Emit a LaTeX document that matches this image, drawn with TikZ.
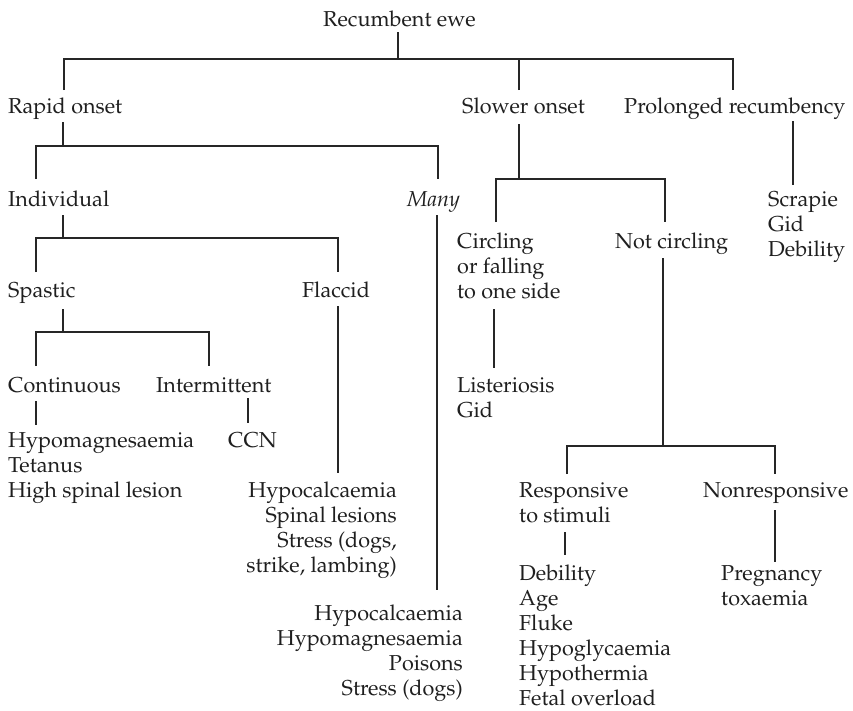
\documentclass[tikz,border=0pt]{standalone}
\usepackage[T1]{fontenc}
\usepackage{mathpazo}
\begin{document}
\begin{tikzpicture}[x=1pt,y=-1pt,
  lbl/.style={inner sep=0pt, anchor=base west, text=black!88,
    font=\fontsize{21.6}{25}\selectfont},
  lblr/.style={lbl, anchor=base east, align=right},
  listl/.style={lbl, align=left}, % anchored at the baseline of the last line
  conn/.style={line width=1.3pt, draw=black!85}]
\useasboundingbox (0,0) rectangle (853,710);

% ---- labels ----
\node[lbl] (rec) at (323,26) {Recumbent ewe};
\node[lbl] (rap) at (8,113) {Rapid onset};
\node[lbl] (slo) at (462,113) {Slower onset};
\node[lbl] (pro) at (624,113) {Prolonged recumbency};
\node[lbl] (ind) at (8,206) {Individual};
\node[lbl] (many) at (407,206) {\itshape Many};
\node[listl] (prolist) at (768,256) {Scrapie\\Gid\\Debility};
\node[lbl] (cir) at (457,248) {Circling};
\node[lbl] (cir2) at (457,273) {or falling};
\node[lbl] (cir3) at (457,298) {to one side};
\node[lbl] (not) at (615,248) {Not circling};
\node[lbl] (spa) at (8,297) {Spastic};
\node[lbl] (fla) at (302,297) {Flaccid};
\node[lbl] (con) at (8,392) {Continuous};
\node[lbl] (int) at (156,392) {Intermittent};
\node[listl] (cirlist) at (457,417) {Listeriosis\\Gid};
\node[listl] (conlist) at (8,497) {Hypomagnesaemia\\Tetanus\\High spinal lesion};
\node[lbl] (ccn) at (228,447) {CCN};
\node[lblr] (flalist) at (397,572) {Hypocalcaemia\\Spinal lesions\\Stress (dogs,\\strike, lambing)};
\node[lbl] (res) at (519,497) {Responsive};
\node[lbl] (res2) at (519,522) {to stimuli};
\node[lbl] (non) at (703,497) {Nonresponsive};
\node[listl] (reslist) at (519,705) {Debility\\Age\\Fluke\\Hypoglycaemia\\Hypothermia\\Fetal overload};
\node[listl] (nonlist) at (721,605) {Pregnancy\\toxaemia};
\node[lblr] (manylist) at (463,695) {Hypocalcaemia\\Hypomagnesaemia\\Poisons\\Stress (dogs)};

% ---- connector end points ----
\coordinate (rec-o) at (398,32);   \coordinate (rec-j) at (398,59);
\coordinate (rap-i) at (64,90);    \coordinate (slo-i) at (519,90);
\coordinate (pro-i) at (733,90);
\coordinate (rap-o) at (63,122);   \coordinate (rap-j) at (63,146);
\coordinate (ind-i) at (36,179);   \coordinate (many-i) at (438,179);
\coordinate (ind-o) at (63,215);   \coordinate (ind-j) at (63,238);
\coordinate (spa-i) at (36,272);   \coordinate (fla-i) at (338,272);
\coordinate (many-o) at (437,215); \coordinate (many-e) at (437,590);
\coordinate (spa-o) at (63,309);   \coordinate (spa-j) at (63,332);
\coordinate (con-i) at (36,366);   \coordinate (int-i) at (209,366);
\coordinate (fla-o) at (338,306);  \coordinate (fla-e) at (338,473);
\coordinate (con-o) at (36,401);   \coordinate (con-e) at (36,425);
\coordinate (int-o) at (248,398);  \coordinate (int-e) at (248,423);
\coordinate (slo-o) at (519,124);  \coordinate (slo-j) at (519,179);
\coordinate (cir-i) at (496,222);  \coordinate (not-i) at (665,222);
\coordinate (pro-o) at (793,121);  \coordinate (pro-e) at (793,185);
\coordinate (cir-o) at (494,309);  \coordinate (cir-e) at (494,368);
\coordinate (not-o) at (663,258);  \coordinate (not-j) at (663,446);
\coordinate (res-i) at (567,474);  \coordinate (non-i) at (775,474);
\coordinate (res-o) at (565,532);  \coordinate (res-e) at (565,555);
\coordinate (non-o) at (775,510);  \coordinate (non-e) at (775,562);

% ---- connectors ----
\draw[conn] (rec-o) -- (rec-j);
\draw[conn] (rap-i) |- (pro-i |- rec-j) -- (pro-i);
\draw[conn] (slo-i) -- (slo-i |- rec-j);

\draw[conn] (rap-o) -- (rap-j);
\draw[conn] (ind-i) |- (many-i |- rap-j) -- (many-i);

\draw[conn] (ind-o) -- (ind-j);
\draw[conn] (spa-i) |- (fla-i |- ind-j) -- (fla-i);
\draw[conn] (many-o) -- (many-e);

\draw[conn] (spa-o) -- (spa-j);
\draw[conn] (con-i) |- (int-i |- spa-j) -- (int-i);
\draw[conn] (fla-o) -- (fla-e);
\draw[conn] (con-o) -- (con-e);
\draw[conn] (int-o) -- (int-e);

\draw[conn] (slo-o) -- (slo-j);
\draw[conn] (cir-i) |- (not-i |- slo-j) -- (not-i);
\draw[conn] (pro-o) -- (pro-e);
\draw[conn] (cir-o) -- (cir-e);

\draw[conn] (not-o) -- (not-j);
\draw[conn] (res-i) |- (non-i |- not-j) -- (non-i);
\draw[conn] (res-o) -- (res-e);
\draw[conn] (non-o) -- (non-e);
\end{tikzpicture}
\end{document}
